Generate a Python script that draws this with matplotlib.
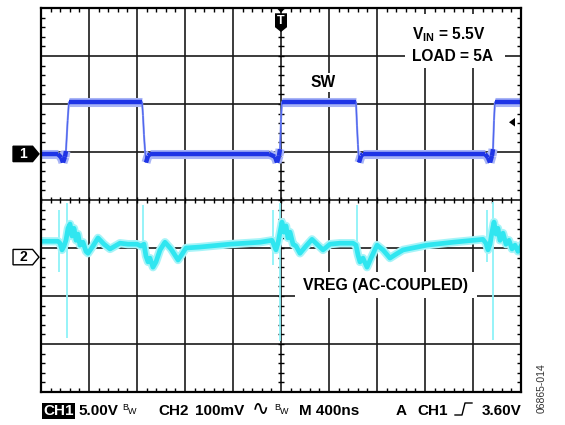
import numpy as np
import matplotlib
matplotlib.use("Agg")
import matplotlib.pyplot as plt
from matplotlib.collections import LineCollection
from matplotlib.patches import Polygon, Rectangle
from matplotlib.lines import Line2D

plt.rcParams["font.family"] = ["Liberation Sans", "DejaVu Sans"]
plt.rcParams["font.weight"] = "bold"

# ── scope settings ───────────────────────────────────────────────────
NS_PER_DIV     = 400
CH1_V_PER_DIV  = 5.0
CH2_MV_PER_DIV = 100.0
CH1_OFFSET_DIV = 0.96     # ground marker "1"
CH2_OFFSET_DIV = -1.19    # ground marker "2"
TRIG_T_NS      = 2000
TRIG_ARROW_V   = 3.3

# ── CH1: SW node (ns, V) ─────────────────────────────────────────────
sw_t = [0, 140, 170, 183, 200, 208, 222, 233, 842, 850, 858, 866, 875, 892, 910,
        1900, 1950, 1967, 1983, 1992, 2000, 2008, 2625, 2633, 2641, 2650, 2667, 2683,
        3700, 3725, 3742, 3758, 3767, 3775, 3783, 4000]
sw_v  = [0, 0, -0.4, -0.9, -0.3, 0.3, 3.5, 5.45, 5.45, 4.0, 2.0, 0.5, -0.9, -0.2, 0,
         0, -0.3, -0.9, -0.2, 0.5, 3.5, 5.45, 5.45, 3.0, 1.0, -0.9, -0.2, 0,
         0, -0.4, -0.9, -0.2, 0.5, 3.5, 5.45, 5.45]

# ── CH2: VREG ripple, AC coupled (ns, mV) ────────────────────────────
vreg_t = [0, 142, 158, 175, 192, 208, 225, 242, 258, 275, 292, 308, 325, 350, 375, 392,
          433, 475, 525, 575, 617, 658, 725, 800, 833, 858, 875, 892, 908, 933, 958,
          992, 1033, 1083, 1142, 1175, 1208, 1325, 1575, 1825, 1925,
          1942, 1958, 1975, 1992, 2008, 2025, 2042, 2058, 2075, 2100, 2125, 2158,
          2208, 2258, 2308, 2350, 2408, 2492, 2600, 2625, 2642, 2658, 2683, 2717,
          2750, 2800, 2850, 2908, 2958, 3017, 3217, 3433, 3683,
          3708, 3725, 3742, 3758, 3775, 3792, 3808, 3825, 3850, 3875, 3900, 3925,
          3950, 3975, 4000]
vreg_mv = [33, 33, 29, 15, 23, 35, 60, 69, 44, 60, 35, 48, 25, 31, 12, 8,
           23, 40, 27, 17, 23, 29, 27, 27, 23, 27, 2, -10, -2, -21, -10,
           15, 31, 17, -6, 6, 19, 21, 27, 31, 35,
           25, 15, 29, 52, 73, 52, 65, 40, 52, 27, 23, 8,
           23, 37, 25, 15, 27, 29, 29, 25, 4, -10, -2, -21,
           -2, 25, 15, -2, 6, 15, 25, 31, 37,
           29, 15, 27, 52, 73, 48, 60, 35, 50, 27, 35, 17,
           25, 12, 23]

# switching spikes on VREG (ns, low mV, high mV)
spike_t  = [154, 217, 850, 1933, 1988, 2633, 3717, 3767]
spike_lo = [-31, -169, 15, -17, -175, -10, -10, -173]
spike_hi = [98, 112, 108, 98, 112, 108, 98, 115]

BLUE  = "#1e34e6"
CYAN  = "#30e6f0"

fig = plt.figure(figsize=(5.65, 4.25), dpi=100)
ax = fig.add_axes([41 / 565, 33 / 425, 480 / 565, 384 / 425])
ax.set_xlim(0, 10 * NS_PER_DIV)
ax.set_ylim(-4, 4)

# graticule
ax.set_xticks(np.arange(0, 10 * NS_PER_DIV + 1, NS_PER_DIV))
ax.set_yticks(np.arange(-4, 5, 1))
ax.set_xticks(np.arange(0, 10 * NS_PER_DIV + 1, NS_PER_DIV / 5), minor=True)
ax.set_yticks(np.arange(-4, 4.01, 0.2), minor=True)
ax.grid(True, which="major", color="#1a1a1a", linewidth=1.2, zorder=1)
ax.tick_params(which="major", length=0, labelbottom=False, labelleft=False)
ax.tick_params(which="minor", direction="in", length=3, width=1.0,
               top=True, right=True, color="black")
for s in ax.spines.values():
    s.set_linewidth(1.6)
    s.set_zorder(5)

# ticks on the centre cross
xm = np.arange(0, 10 * NS_PER_DIV + 1, NS_PER_DIV / 5)
ym = np.arange(-4, 4.01, 0.2)
ax.plot(xm, np.zeros_like(xm), ls="none", marker="|", ms=4.5, mew=1.0,
        color="black", zorder=2)
ax.plot(np.full_like(ym, 5 * NS_PER_DIV), ym, ls="none", marker="_", ms=4.5,
        mew=1.0, color="black", zorder=2)

# ── CH1 trace ────────────────────────────────────────────────────────
t1 = np.array(sw_t, float)
y1 = np.array(sw_v) / CH1_V_PER_DIV + CH1_OFFSET_DIV
pts = np.column_stack([t1, y1])
segs = np.stack([pts[:-1], pts[1:]], axis=1)
steep = np.abs(np.diff(sw_v)) > 1.0
ax.add_collection(LineCollection(segs, colors=np.where(steep, "#90a0f4", "#a8b4f6"),
                                 linewidths=np.where(steep, 1.5, 6.5), zorder=3))
ax.add_collection(LineCollection(segs, colors=np.where(steep, "#5066ee", BLUE),
                                 linewidths=np.where(steep, 0.9, 3.2), zorder=4))

# ── CH2 trace ────────────────────────────────────────────────────────
y2 = np.array(vreg_mv) / CH2_MV_PER_DIV + CH2_OFFSET_DIV
ax.vlines(spike_t, np.array(spike_lo) / CH2_MV_PER_DIV + CH2_OFFSET_DIV,
          np.array(spike_hi) / CH2_MV_PER_DIV + CH2_OFFSET_DIV,
          color="#8ef2f8", linewidth=1.3, zorder=3)
ax.plot(vreg_t, y2, color="#a6f4f8", linewidth=6, zorder=3, solid_joinstyle="round")
ax.plot(vreg_t, y2, color=CYAN, linewidth=3.4, zorder=4, solid_joinstyle="round")

# ── labels on the screen ─────────────────────────────────────────────
ax.add_patch(Rectangle((3033, 2.75), 834, 1.12, facecolor="white",
                       edgecolor="none", zorder=6))
ax.text(3092, 3.44, r"V$_{\mathregular{IN}}$ = 5.5V", fontsize=11.2,
        fontweight="bold", ha="left", va="center", zorder=7)
ax.text(3092, 3.0, "LOAD = 5A", fontsize=11.2, fontweight="bold",
        ha="left", va="center", zorder=7)
ax.text(2354, 2.44, "SW", fontsize=11.2, fontweight="bold", ha="center",
        va="center", zorder=7,
        bbox=dict(facecolor="white", edgecolor="none", pad=1.5))
ax.add_patch(Rectangle((2117, -2.04), 1516, 0.55, facecolor="white",
                       edgecolor="none", zorder=6))
ax.text(2867, -1.79, "VREG (AC-COUPLED)", fontsize=11.4, fontweight="bold",
        ha="center", va="center", zorder=7)

# channel ground markers
for off, label, fc, tc in [(CH1_OFFSET_DIV, "1", "black", "white"),
                           (CH2_OFFSET_DIV, "2", "white", "black")]:
    h = 0.16
    ax.add_patch(Polygon([(-233, off - h), (-70, off - h), (-17, off),
                          (-70, off + h), (-233, off + h)], closed=True,
                         facecolor=fc, edgecolor="black", linewidth=1.0,
                         clip_on=False, zorder=8))
    ax.text(-150, off, label, color=tc, fontsize=10, fontweight="bold",
            ha="center", va="center", clip_on=False, zorder=9)

# trigger position marker (top)
ax.add_patch(Polygon([(TRIG_T_NS - 33, 3.99), (TRIG_T_NS + 33, 3.99),
                      (TRIG_T_NS, 3.9)], closed=True, facecolor="black",
                     edgecolor="none", clip_on=False, zorder=8))
ax.add_patch(Polygon([(TRIG_T_NS - 50, 3.89), (TRIG_T_NS + 50, 3.89),
                      (TRIG_T_NS + 50, 3.6), (TRIG_T_NS, 3.5),
                      (TRIG_T_NS - 50, 3.6)], closed=True, facecolor="black",
                     edgecolor="none", clip_on=False, zorder=8))
ax.text(TRIG_T_NS, 3.73, "T", color="white", fontsize=9, fontweight="bold",
        ha="center", va="center", zorder=9)

# trigger level arrow (right)
ty = TRIG_ARROW_V / CH1_V_PER_DIV + CH1_OFFSET_DIV
ax.add_patch(Polygon([(3900, ty), (3950, ty + 0.09), (3950, ty - 0.09)],
                     closed=True, facecolor="black", edgecolor="none", zorder=8))

# ── status line ──────────────────────────────────────────────────────
def px(x, y):
    return x / 565, 1 - y / 425

FS = 11
fig.text(*px(43, 411), "CH1", fontsize=FS, fontweight="bold", color="white",
         va="center", ha="left",
         bbox=dict(facecolor="black", edgecolor="none", pad=1.0))
fig.text(*px(78, 411), "5.00V", fontsize=FS, fontweight="bold", va="center")
fig.text(*px(122, 407), "B", fontsize=6.5, fontweight="normal", va="center")
fig.text(*px(127.5, 411), "W", fontsize=6.5, fontweight="normal", va="center")
fig.text(*px(158, 411), "CH2", fontsize=FS, fontweight="bold", va="center")
fig.text(*px(195, 411), "100mV", fontsize=FS, fontweight="bold", va="center")
fig.text(*px(252, 409), "\u223f", fontsize=15, fontweight="normal", va="center",
         family=["DejaVu Sans"])
fig.text(*px(274, 407), "B", fontsize=6.5, fontweight="normal", va="center")
fig.text(*px(279.5, 411), "W", fontsize=6.5, fontweight="normal", va="center")
fig.text(*px(299, 411), "M 400ns", fontsize=FS, fontweight="bold", va="center")
fig.text(*px(396, 411), "A", fontsize=FS, fontweight="bold", va="center")
fig.text(*px(417, 411), "CH1", fontsize=FS, fontweight="bold", va="center")
ex, ey = zip(*[px(455, 415), px(462, 415), px(465, 403), px(472, 403)])
fig.add_artist(Line2D(ex, ey, color="black", linewidth=1.0,
                      transform=fig.transFigure))
fig.text(*px(482, 411), "3.60V", fontsize=FS, fontweight="bold", va="center")
fig.text(*px(542, 388), "06865-014", fontsize=7.5, fontweight="normal",
         color="#333333", rotation=90, ha="center", va="center")

fig.savefig("out.png", dpi=100)
